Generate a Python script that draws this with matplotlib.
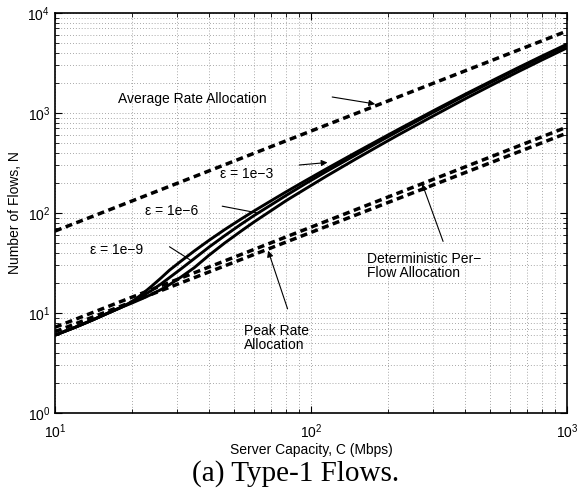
"""
Number of admissible flows vs server capacity, Type-1 flows.
"""

import numpy as np
import matplotlib
matplotlib.use('Agg')
import matplotlib.pyplot as plt

plt.rcParams['font.family'] = ['Liberation Sans', 'DejaVu Sans']
plt.rcParams['mathtext.fontset'] = 'custom'
plt.rcParams['mathtext.rm'] = 'Liberation Sans'

# server capacity (Mbps) for the statistical curves
capacity = [10, 12, 14, 16, 18, 20, 22, 24, 26, 28, 31, 35, 40, 46, 53, 60, 70, 80,
            95, 115, 150, 190, 223, 300, 400, 520, 650, 800, 1000]
flows_eps3 = [6.0, 7.2, 8.5, 9.9, 11.3, 13.0, 15.6, 18.8, 22.5, 26.8, 32.9, 41.7, 53.4,
              68.2, 86.2, 105, 133, 163, 210, 277, 404, 562, 701, 1050, 1540, 2160,
              2870, 3720, 4880]
flows_eps6 = [6.0, 7.2, 8.5, 9.9, 11.3, 12.8, 14.8, 17.0, 19.6, 22.6, 27.5, 35.0, 45.7,
              59.3, 76.4, 94.5, 121, 150, 196, 261, 383, 539, 674, 1015, 1500, 2105,
              2795, 3620, 4750]
flows_eps9 = [6.0, 7.2, 8.5, 9.9, 11.3, 12.6, 14.0, 15.5, 17.2, 19.2, 22.8, 28.4, 37.9,
              50.1, 65.2, 81.6, 106, 133, 174, 234, 348, 491, 618, 933, 1386, 1960,
              2615, 3400, 4480]

# linear allocation schemes
capacity_lin = [10, 1000]
avg_rate_flows = [66, 6600]
det_flows = [7.2, 724]
peak_flows = [6.5, 630]

fig = plt.figure(figsize=(5.83, 4.90), dpi=100)
ax = fig.add_axes([0.0943, 0.1571, 0.8783, 0.8164])

for y in (flows_eps3, flows_eps6, flows_eps9):
    ax.plot(capacity, y, color='k', lw=2.1, solid_capstyle='butt', solid_joinstyle='round')

for y in (avg_rate_flows, det_flows, peak_flows):
    ax.plot(capacity_lin, y, color='k', lw=2.5, dashes=(2, 1.3))

ax.set_xscale('log')
ax.set_yscale('log')
ax.set_xlim(10, 1000)
ax.set_ylim(1, 1e4)

ax.grid(True, which='both', color='0.55', lw=0.6, dashes=(1, 2.5))
ax.tick_params(which='both', direction='in', top=True, right=True, labelsize=10)
ax.tick_params(which='major', length=5)
ax.tick_params(which='minor', length=3)
ax.tick_params(axis='x', which='major', pad=7)
for s in ax.spines.values():
    s.set_linewidth(1.2)

ax.set_xlabel('Server Capacity, C (Mbps)', fontsize=10, labelpad=1)
ax.set_ylabel('Number of Flows, N', fontsize=10, labelpad=4)

arrow = dict(arrowstyle='-|>', color='k', lw=0.8, mutation_scale=9,
             shrinkA=0, shrinkB=0)
plain = dict(arrow, arrowstyle='-')
fs = 10

ax.text(17.6, 1380, 'Average Rate Allocation', fontsize=fs, va='center', ha='left')
ax.annotate('', xy=(178, 1230), xytext=(121, 1445), arrowprops=arrow)

ax.text(44, 245, 'ε = 1e−3', fontsize=fs, va='center', ha='left')
ax.annotate('', xy=(116, 320), xytext=(90, 302), arrowprops=arrow)

ax.text(22.5, 105, 'ε = 1e−6', fontsize=fs, va='center', ha='left')
ax.annotate('', xy=(62, 100), xytext=(45, 117), arrowprops=plain)

ax.text(13.7, 43, 'ε = 1e−9', fontsize=fs, va='center', ha='left')
ax.annotate('', xy=(33.7, 34), xytext=(28, 46), arrowprops=plain)

ax.text(165, 29.5, 'Deterministic Per−\nFlow Allocation', fontsize=fs,
        va='center', ha='left', linespacing=1.05)
ax.annotate('', xy=(272, 195), xytext=(328, 52), arrowprops=arrow)

ax.text(54.7, 5.6, 'Peak Rate\nAllocation', fontsize=fs,
        va='center', ha='left', linespacing=1.05)
ax.annotate('', xy=(68, 42), xytext=(81, 11), arrowprops=arrow)

fig.text(0.507, 0.034, '(a) Type-1 Flows.', fontsize=21, ha='center', va='center',
         family=['Liberation Serif', 'DejaVu Serif'])

fig.savefig('out.png', dpi=100)
